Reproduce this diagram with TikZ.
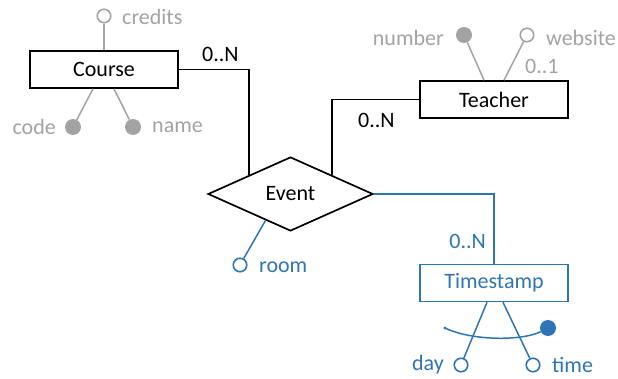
\documentclass[tikz,border=0pt]{standalone}
\usepackage{fontspec}
\setmainfont{Carlito}
\usetikzlibrary{shapes.geometric,calc}
\definecolor{attrgray}{HTML}{A3A3A3}
\definecolor{erblue}{HTML}{2E75B6}
\tikzset{
  entity/.style={draw, line width=1.7pt, minimum width=148pt, minimum height=37pt, inner sep=0pt, font=\fontsize{22}{25}\selectfont},
  rel/.style={draw, line width=1.7pt, shape=diamond, minimum width=165pt, minimum height=74pt, inner sep=0pt, font=\fontsize{22}{25}\selectfont},
  conn/.style={line width=1.7pt},
  attrline/.style={line width=1.5pt, attrgray},
  opendot/.style={circle, line width=1.6pt, fill=white, minimum size=13.5pt, inner sep=0pt},
  filldot/.style={circle, minimum size=16pt, inner sep=0pt},
  lbl/.style={font=\fontsize{22}{25}\selectfont, inner sep=0pt},
}
\begin{document}
\begin{tikzpicture}[x=1pt,y=-1pt]
\useasboundingbox (0,0) rectangle (618,379);
% entities
\node[entity] (course) at (104,69.5) {Course};
\node[entity] (teacher) at (494,99.5) {Teacher};
\node[rel] (event) at (290.5,194) {Event};
\node[entity, draw=erblue, text=erblue] (ts) at (494,283) {Timestamp};
% Course attributes
\node[opendot, draw=attrgray] (credits) at (104,16) {};
\node[lbl, text=attrgray, anchor=west] (creditsl) at (122,17) {credits};
\node[filldot, fill=attrgray] (code) at (73,127) {};
\node[lbl, text=attrgray, anchor=east] (codel) at (56,127) {code};
\node[filldot, fill=attrgray] (name) at (133,127) {};
\node[lbl, text=attrgray, anchor=west] (namel) at (152,127) {name};
\draw[attrline] (course.north) -- (credits);
\draw[attrline] ([xshift=-11pt]course.south) -- (code);
\draw[attrline] ([xshift=10pt]course.south) -- (name);
% Teacher attributes
\node[filldot, fill=attrgray] (number) at (464,35) {};
\node[lbl, text=attrgray, anchor=east] (numberl) at (444,38) {number};
\node[opendot, draw=attrgray] (website) at (527,35) {};
\node[lbl, text=attrgray, anchor=west] (websitel) at (546,38) {website};
\node[lbl, text=attrgray, anchor=west] (card01) at (525,66) {0..1};
\draw[attrline] ([xshift=-10pt]teacher.north) -- (number);
\draw[attrline] ([xshift=10pt]teacher.north) -- (website);
% relationships
\draw[conn] (course.east) -| (event.north west);
\draw[conn] (teacher.west) -| (event.north east);
\node[lbl, anchor=west] (cardc) at (202,54) {0..N};
\node[lbl, anchor=west] (cardt) at (358,120) {0..N};
\draw[conn, erblue] (event.east) -| (ts.north);
\node[lbl, text=erblue, anchor=east] (cardts) at (486,241) {0..N};
% room
\coordinate (roomstart) at ($(event.west)!0.7!(event.south)$);
\node[opendot, draw=erblue] (room) at (240,265) {};
\node[lbl, text=erblue, anchor=west] (rooml) at (259,267) {room};
\draw[line width=1.5pt, erblue] (roomstart) -- (room);
% Timestamp attributes
\node[opendot, draw=erblue] (day) at (461,365) {};
\node[lbl, text=erblue, anchor=east] (dayl) at (444,365) {day};
\node[opendot, draw=erblue] (time) at (533,365) {};
\node[lbl, text=erblue, anchor=west] (timel) at (552,365) {time};
\draw[line width=1.5pt, erblue] ([xshift=-7pt]ts.south) -- (day);
\draw[line width=1.5pt, erblue] ([xshift=9pt]ts.south) -- (time);
\coordinate (arcs) at (445,328);
\fill[erblue] (arcs) circle (1.6pt);
\node[filldot, fill=erblue] (arce) at (548,328) {};
\draw[line width=1.5pt, erblue] (arcs) .. controls (472,341) and (522,341) .. (arce);
\end{tikzpicture}
\end{document}
